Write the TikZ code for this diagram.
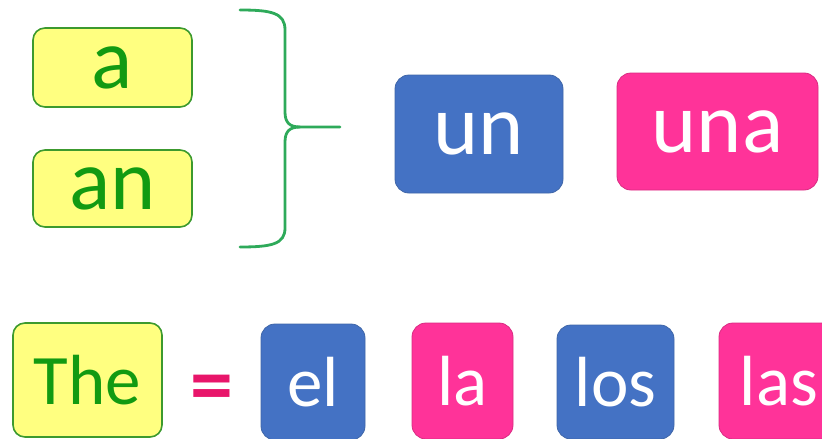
\documentclass[tikz,border=0pt]{standalone}
\usepackage{fontspec}
\setmainfont{Carlito}
\definecolor{yfill}{HTML}{FFFF80}
\definecolor{yline}{HTML}{3C9A2E}
\definecolor{gtext}{HTML}{129A12}
\definecolor{bfill}{HTML}{4472C4}
\definecolor{bline}{HTML}{3F66A8}
\definecolor{pfill}{HTML}{FF3399}
\definecolor{pline}{HTML}{D92B82}
\definecolor{eqc}{HTML}{E8156A}
\definecolor{bracec}{HTML}{2EAA5A}
\tikzset{
  bigtxt/.style={font=\fontsize{86}{90}\selectfont},
  smalltxt/.style={font=\fontsize{71}{74}\selectfont},
  ybox/.style={draw=yline, line width=1.6pt, fill=yfill, text=gtext, rounded corners=12pt, inner sep=0pt},
  bbox/.style={draw=bline, line width=0.8pt, fill=bfill, text=white, rounded corners=14pt, inner sep=0pt},
  pbox/.style={draw=pline, line width=0.8pt, fill=pfill, text=white, rounded corners=14pt, inner sep=0pt},
  bracestyle/.style={draw=bracec, line width=2.8pt, line cap=round}
}
\begin{document}
\begin{tikzpicture}[x=1pt,y=-1pt]
\useasboundingbox (0,0) rectangle (822,439);
% top row
\node[ybox, bigtxt, minimum width=159pt, minimum height=79pt] (a) at (112.5,67.5) {a};
\node[ybox, bigtxt, minimum width=159pt, minimum height=77pt] (an) at (112.5,188.5) {an};
\node[bbox, bigtxt, minimum width=168pt, minimum height=118pt] (un) at (479,134) {un};
\node[pbox, bigtxt, minimum width=201pt, minimum height=117pt] (una) at (717.5,131.5) {una};
% brace
\coordinate (btop) at (240,10);
\coordinate (bbot) at (240,247);
\coordinate (btip) at (340,127);
\draw[bracestyle] (btop) .. controls (272,10) and (285,13) .. (285,30) -- (285,112)
  .. controls (285,123) and (290,127) .. (300,127) -- (btip);
\draw[bracestyle] (300,127) .. controls (290,127) and (285,131) .. (285,142) -- (285,228)
  .. controls (285,244) and (272,247) .. (bbot);
% bottom row
\node[ybox, smalltxt, minimum width=149pt, minimum height=114pt] (the) at (87.5,380) {The};
\node[text=eqc, font=\fontsize{86}{90}\selectfont\bfseries, inner sep=0pt] (eq) at (211.5,394) {=};
\node[bbox, smalltxt, minimum width=104pt, minimum height=116pt] (el) at (313,382) {el};
\node[pbox, smalltxt, minimum width=101pt, minimum height=116pt] (la) at (462.5,381) {la};
\node[bbox, smalltxt, minimum width=117pt, minimum height=114pt] (los) at (615.5,382) {los};
\node[pbox, smalltxt, minimum width=120pt, minimum height=116pt] (las) at (779,381) {las};
\end{tikzpicture}
\end{document}
